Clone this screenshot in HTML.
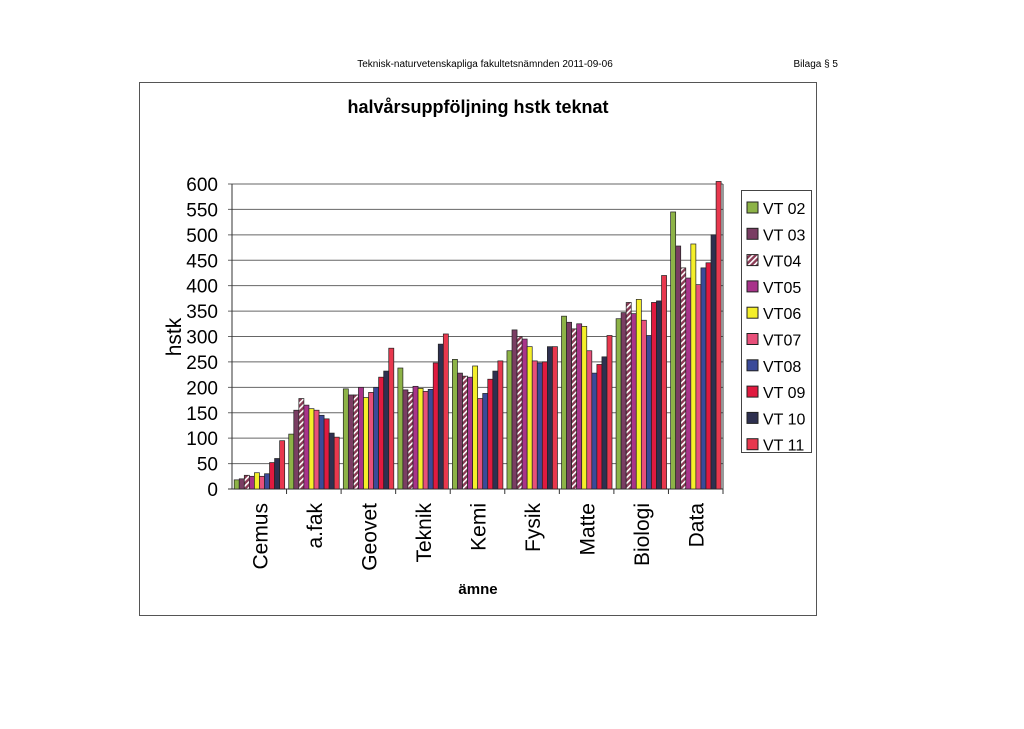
<!DOCTYPE html>
<html><head><meta charset="utf-8"><style>
body{margin:0;background:#fff;width:1024px;height:724px;overflow:hidden;font-family:"Liberation Sans",sans-serif}
</style></head><body>
<svg id="c" width="1024" height="724">
<defs><pattern id="hatch" width="4" height="4" patternUnits="userSpaceOnUse" patternTransform="rotate(45)"><rect width="4" height="4" fill="#8a3a55"/><rect width="1.6" height="4" fill="#fff"/></pattern></defs>
<text x="485" y="67" font-size="10" text-anchor="middle">Teknisk-naturvetenskapliga fakultetsnämnden 2011-09-06</text>
<text x="838" y="67" font-size="10" text-anchor="end">Bilaga § 5</text>
<rect x="139.5" y="82.5" width="677" height="533" fill="none" stroke="#555"/>
<text x="478" y="113" font-size="18" font-weight="bold" text-anchor="middle">halvårsuppföljning hstk teknat</text>
<text transform="translate(181,337) rotate(-90)" font-size="21" text-anchor="middle">hstk</text>
<text x="478" y="594" font-size="15" font-weight="bold" text-anchor="middle">ämne</text>
<g id="grid"></g><g id="bars"></g><g id="legend"></g>
</svg>
<script>
const categories=["Cemus","a.fak","Geovet","Teknik","Kemi","Fysik","Matte","Biologi","Data"];
const seriesNames=["VT 02","VT 03","VT04","VT05","VT06","VT07","VT08","VT 09","VT 10","VT 11"];
const VT02=[18,108,197,238,255,272,340,335,545];
const VT03=[20,155,185,195,228,313,328,347,478];
const VT04=[27,178,185,190,222,300,315,367,435];
const VT05=[25,165,200,202,220,295,325,345,415];
const VT06=[32,158,180,198,242,280,320,373,482];
const VT07=[25,155,190,192,178,252,272,332,402];
const VT08=[30,145,200,196,188,248,228,302,435];
const VT09=[52,138,220,248,216,250,245,367,445];
const VT10=[60,110,232,285,232,280,260,370,500];
const VT11=[95,102,277,305,252,280,302,420,605];
const yTicks=[0,50,100,150,200,250,300,350,400,450,500,550,600];
const series=[VT02,VT03,VT04,VT05,VT06,VT07,VT08,VT09,VT10,VT11];
const colors=["#8db347","#7a3d63","url(#hatch)","#a8338a","#f5ef2a","#e8507a","#3b4a99","#e01a3f","#2e3050","#e8384e"];
const NS="http://www.w3.org/2000/svg";
const X0=232,X1=723,Y0=489,Y1=184;
const y=v=>Y0-(v/600)*(Y0-Y1);
const gw=(X1-X0)/categories.length;
function mk(t,a,p){const e=document.createElementNS(NS,t);for(const k in a)e.setAttribute(k,a[k]);p.appendChild(e);return e;}
const grid=document.getElementById('grid');
yTicks.forEach(t=>{
 const l=mk('line',{x1:X0-4,x2:X1,y1:y(t),y2:y(t),stroke:t===0?'#333':'#666','stroke-width':1},grid);
 
 
 const tx=mk('text',{x:X0-14,y:y(t)+7,'font-size':19,'text-anchor':'end'},grid);tx.textContent=t;
 
 
});
const ax=mk('line',{x1:X0,x2:X0,y1:Y1,y2:Y0,stroke:'#333'},grid);


mk('line',{x1:X1,x2:X1,y1:Y1,y2:Y0,stroke:'#333'},grid);
const bars=document.getElementById('bars');
const bw=gw/10.8;
categories.forEach((c,i)=>{
 const gx=X0+i*gw;
 mk('line',{x1:gx+gw,x2:gx+gw,y1:Y0,y2:Y0+5,stroke:'#333'},grid);
 series.forEach((s,j)=>{
  const r=mk('rect',{x:gx+gw*0.04+j*bw,y:y(s[i]),width:bw,height:Y0-y(s[i]),fill:colors[j],stroke:'#222','stroke-width':0.7},bars);
  
  
 });
 const t=mk('text',{transform:`translate(${gx+gw/2+8},${Y0+14}) rotate(-90)`,'font-size':21,'text-anchor':'end'},grid);
 t.textContent=c;
 
 
});
const lg=document.getElementById('legend');
const lb=mk('rect',{x:741.5,y:190.5,width:70,height:262,fill:'#fff',stroke:'#444'},lg);


seriesNames.forEach((n,j)=>{
 const yy=208+j*26.3;
 const sw=mk('rect',{x:747,y:yy-6,width:11,height:11,fill:colors[j],stroke:'#222'},lg);
 
 
 const t=mk('text',{x:763,y:yy+6,'font-size':16},lg);t.textContent=n;
 
 
});
</script>
</body></html>
